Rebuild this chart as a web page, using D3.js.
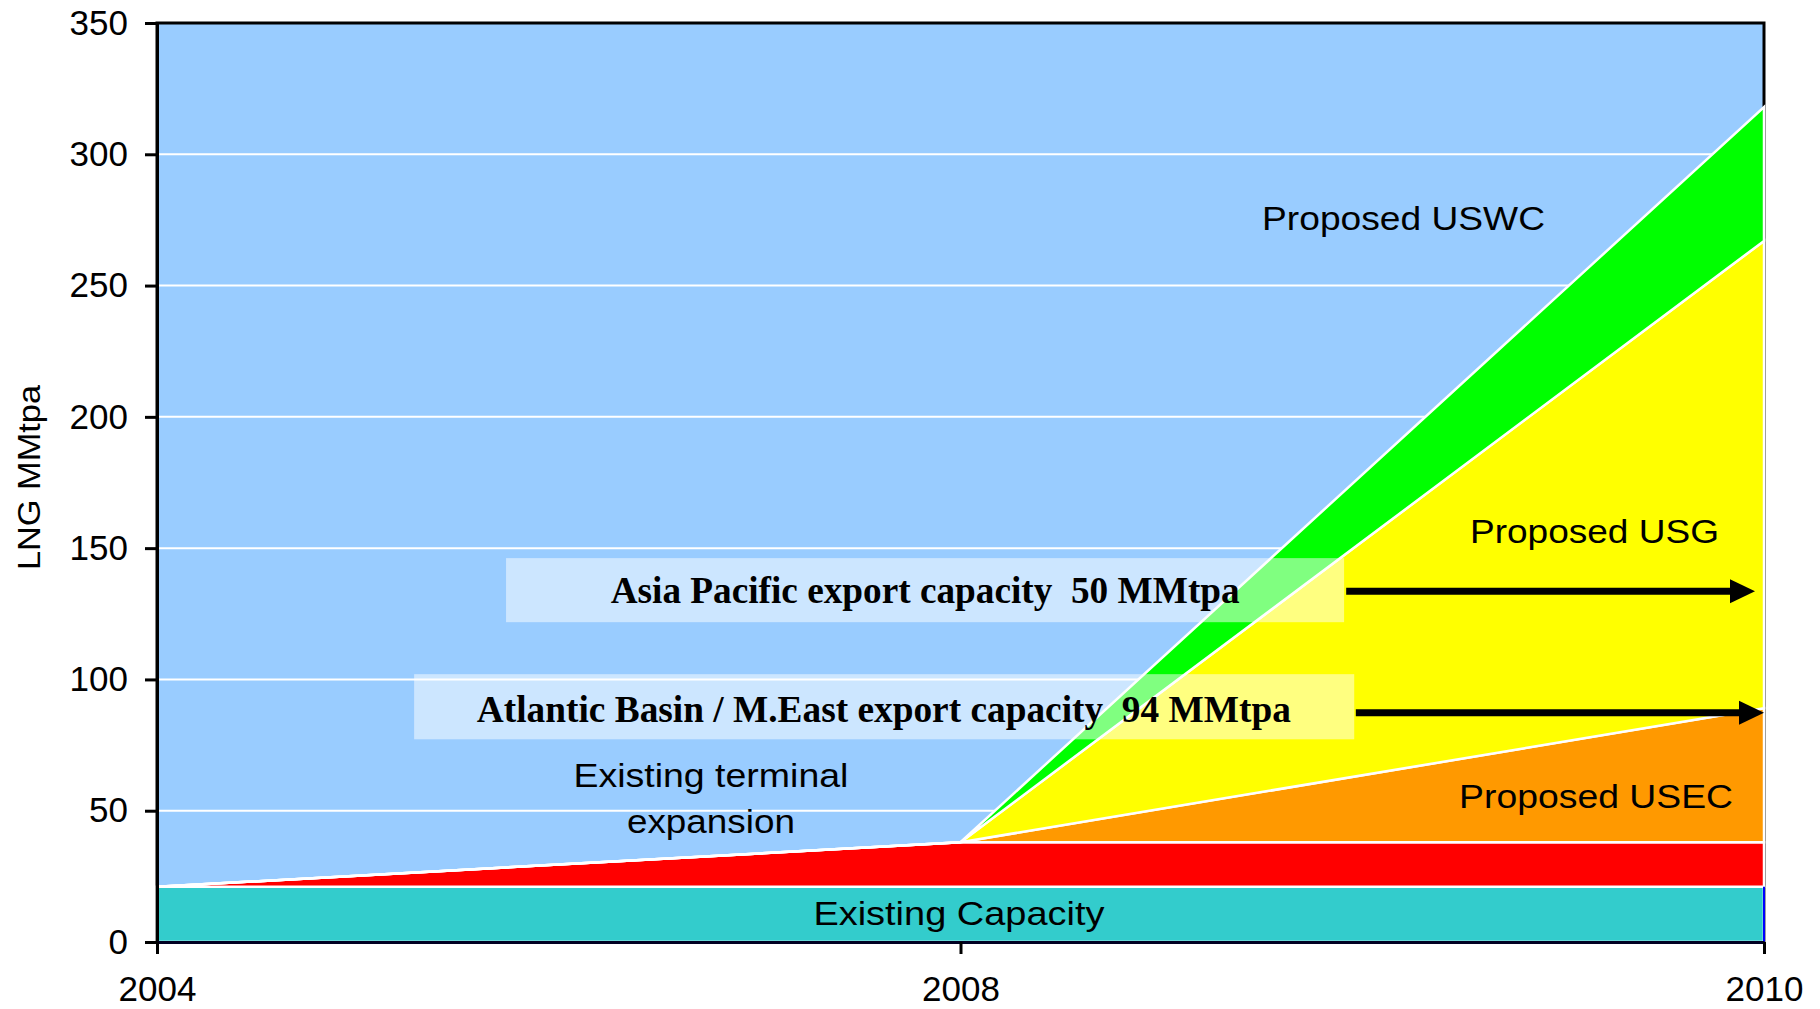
<!DOCTYPE html>
<html>
<head>
<meta charset="utf-8">
<script src="https://cdn.jsdelivr.net/npm/d3@7"></script>
<style>
  html, body { margin: 0; padding: 0; background: #ffffff; }
  svg { display: block; }
  text { white-space: pre; }
</style>
</head>
<body>
<svg id="chart" width="1820" height="1009"></svg>
<script>
// ---------- DATA ----------
const years = [2004, 2008, 2010];
const existingCapacity = [21, 21, 21];
const terminalExpansion = [0, 17, 17];
const proposedUSEC = [0, 0, 51];
const proposedUSG = [0, 0, 178];
const proposedUSWC = [0, 0, 51];
const seriesKeys = ["existing", "expansion", "usec", "usg", "uswc"];
const seriesColors = ["#33CCCC", "#FF0000", "#FF9900", "#FFFF00", "#00FF00"];
const yTickValues = [0, 50, 100, 150, 200, 250, 300, 350];
const yAxisTitle = "LNG MMtpa";

// area labels: text, horizontal fraction of plot, baseline value, width
const areaLabels = [
  { text: "Proposed USWC", t: 0.7757, v: 271.2, w: 283 },
  { text: "Proposed USG", t: 0.8945, v: 151.9, w: 249 },
  { text: "Proposed USEC", t: 0.8955, v: 51.0, w: 274 },
  { text: "Existing terminal", t: 0.3447, v: 59.1, w: 275 },
  { text: "expansion", t: 0.3447, v: 41.4, w: 168 },
  { text: "Existing Capacity", t: 0.4990, v: 6.4, w: 291 }
];
// export capacity boxes
const exportBoxes = [
  { text: "Asia Pacific export capacity  50 MMtpa", t0: 0.2172, t1: 0.7387, vTop: 146.2, vBot: 121.8,
    tText: 0.478, vText: 129.1, w: 629, arrowT0: 0.740, arrowT1: 0.9944, arrowV: 133.6 },
  { text: "Atlantic Basin / M.East export capacity  94 MMtpa", t0: 0.160, t1: 0.745, vTop: 102.0, vBot: 77.2,
    tText: 0.4523, vText: 83.7, w: 814, arrowT0: 0.746, arrowT1: 1.0, arrowV: 87.3 }
];

// ---------- LAYOUT ----------
const svg = d3.select("#chart");
const mLeft = 157, mRight = 1764, mTop = 23, mBottom = 942;

const x = d3.scalePoint().domain(years).range([mLeft, mRight]);
const y = d3.scaleLinear().domain([0, 350]).range([mBottom, mTop]);
const fx = t => mLeft + t * (mRight - mLeft);

const rows = years.map((yr, i) => ({
  year: yr,
  existing: existingCapacity[i],
  expansion: terminalExpansion[i],
  usec: proposedUSEC[i],
  usg: proposedUSG[i],
  uswc: proposedUSWC[i]
}));
const stacked = d3.stack().keys(seriesKeys)(rows);

// plot background + border
svg.append("rect")
  .attr("x", mLeft).attr("y", mTop)
  .attr("width", mRight - mLeft).attr("height", mBottom - mTop)
  .attr("fill", "#99CCFF")
  .attr("stroke", "#000").attr("stroke-width", 3);

// gridlines
svg.append("g").selectAll("line")
  .data(yTickValues.filter(v => v > 0 && v < 350))
  .join("line")
  .attr("x1", mLeft).attr("x2", mRight)
  .attr("y1", d => y(d)).attr("y2", d => y(d))
  .attr("stroke", "#ffffff").attr("stroke-width", 2);

// areas
const area = d3.area()
  .x(d => x(d.data.year))
  .y0(d => y(d[0]))
  .y1(d => y(d[1]));

svg.append("g").selectAll("path")
  .data(stacked)
  .join("path")
  .attr("d", area)
  .attr("fill", (d, i) => seriesColors[i])
  .attr("stroke", "#ffffff")
  .attr("stroke-width", 2.5)
  .attr("stroke-linejoin", "miter");

// blue edge on existing capacity at right
svg.append("line")
  .attr("x1", x(2010)).attr("x2", x(2010))
  .attr("y1", y(0)).attr("y2", y(existingCapacity[2]))
  .attr("stroke", "#0000FF").attr("stroke-width", 2);

// area labels
svg.append("g").selectAll("text")
  .data(areaLabels)
  .join("text")
  .attr("x", d => fx(d.t))
  .attr("y", d => y(d.v))
  .attr("text-anchor", "middle")
  .attr("font-family", "'Liberation Sans', Arial, sans-serif")
  .attr("font-size", 33)
  .attr("fill", "#000")
  .attr("textLength", d => d.w)
  .attr("lengthAdjust", "spacingAndGlyphs")
  .text(d => d.text);

// export boxes
const boxG = svg.append("g");
exportBoxes.forEach(b => {
  boxG.append("rect")
    .attr("x", fx(b.t0)).attr("y", y(b.vTop))
    .attr("width", fx(b.t1) - fx(b.t0))
    .attr("height", y(b.vBot) - y(b.vTop))
    .attr("fill", "#ffffff").attr("fill-opacity", 0.5);
  boxG.append("text")
    .attr("x", fx(b.tText)).attr("y", y(b.vText))
    .attr("text-anchor", "middle")
    .attr("font-family", "'Liberation Serif', 'Times New Roman', serif")
    .attr("font-weight", "bold")
    .attr("font-size", 37)
    .attr("fill", "#000")
    .attr("textLength", b.w)
    .attr("lengthAdjust", "spacingAndGlyphs")
    .text(b.text);
  const ax0 = fx(b.arrowT0), ax1 = fx(b.arrowT1), ay = y(b.arrowV);
  const headL = 25, headH = 12;
  boxG.append("line")
    .attr("x1", ax0).attr("x2", ax1 - headL + 2)
    .attr("y1", ay).attr("y2", ay)
    .attr("stroke", "#000").attr("stroke-width", 7);
  boxG.append("path")
    .attr("d", `M${ax1},${ay} L${ax1 - headL},${ay - headH} L${ax1 - headL},${ay + headH} Z`)
    .attr("fill", "#000");
});

// axes
const yAxis = d3.axisLeft(y).tickValues(yTickValues).tickSize(12).tickSizeOuter(0).tickPadding(17);
const yG = svg.append("g").attr("transform", `translate(${mLeft},0)`).call(yAxis);
yG.select(".domain").attr("stroke", "#000").attr("stroke-width", 3);
yG.selectAll(".tick line").attr("stroke", "#000").attr("stroke-width", 3);
yG.selectAll(".tick text")
  .attr("font-family", "'Liberation Sans', Arial, sans-serif")
  .attr("font-size", 35).attr("fill", "#000");

const xAxis = d3.axisBottom(x).tickSize(12).tickSizeOuter(0).tickPadding(22).tickFormat(d3.format("d"));
const xG = svg.append("g").attr("transform", `translate(0,${mBottom})`).call(xAxis);
xG.select(".domain").attr("stroke", "#000022").attr("stroke-width", 3);
xG.selectAll(".tick line").attr("stroke", "#000").attr("stroke-width", 3);
xG.selectAll(".tick text")
  .attr("font-family", "'Liberation Sans', Arial, sans-serif")
  .attr("font-size", 35).attr("fill", "#000");

// y axis title
svg.append("text")
  .attr("transform", `translate(40,${(385 + 570) / 2}) rotate(-90)`)
  .attr("text-anchor", "middle")
  .attr("font-family", "'Liberation Sans', Arial, sans-serif")
  .attr("font-size", 31)
  .attr("fill", "#000")
  .attr("textLength", 185)
  .attr("lengthAdjust", "spacingAndGlyphs")
  .text(yAxisTitle);
</script>
</body>
</html>
